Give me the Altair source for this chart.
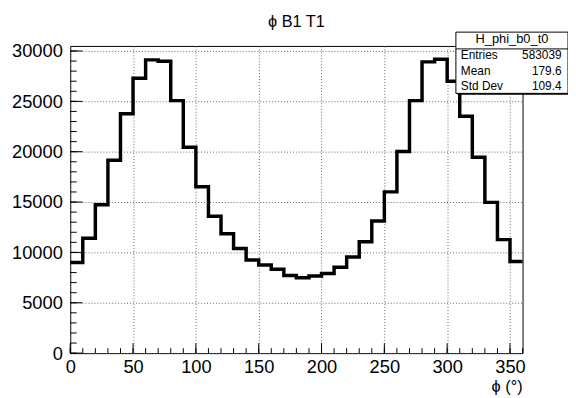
import altair as alt
import pandas as pd

# ---- data ----
bin_lo = list(range(0, 360, 10))
counts = [9000, 11400, 14740, 19150, 23760, 27290, 29120, 28990, 25070, 20450,
          16520, 13600, 11860, 10390, 9250, 8760, 8330, 7710, 7480, 7650,
          7910, 8530, 9540, 11050, 13120, 16010, 20010, 25070, 28920, 29190,
          26990, 23530, 19440, 14970, 11270, 9090]
x_major = [0, 50, 100, 150, 200, 250, 300, 350]
y_major = [0, 5000, 10000, 15000, 20000, 25000, 30000]
x_minor = list(range(0, 361, 10))
y_minor = list(range(0, 30001, 1000))
title_text = "ϕ B1 T1"
x_title = "ϕ (°)"
stats_name = "H_phi_b0_t0"
stats_labels = ["Entries", "Mean", "Std Dev"]
stats_values = ["583039", "179.6", "109.4"]

W, H = 458, 311
FONT = "Liberation Sans"
xs = alt.Scale(domain=[0, 360], nice=False, zero=False)
ys = alt.Scale(domain=[0, 30500], nice=False)

x_axis = alt.Axis(
    values=x_major, ticks=False, domain=False, grid=True, gridDash=[1, 2],
    gridColor="#666", gridWidth=1, labelFontSize=18.5, labelFont=FONT, format="d",
    labelColor="black", labelPadding=5, labelFlush=False, labelOverlap=False,
    title=None)
y_axis = alt.Axis(
    values=y_major, ticks=False, domain=False, grid=True, gridDash=[1, 2],
    gridColor="#666", gridWidth=1, labelFontSize=18.5, labelFont=FONT, format="d",
    labelColor="black", labelPadding=8, labelFlush=False, labelOverlap=False,
    title=None)

line_df = pd.DataFrame({"phi": bin_lo + [360], "n": counts + [counts[-1]]})

hist = alt.Chart(line_df).mark_line(
    interpolate="step-after", color="black", strokeWidth=3.5, strokeJoin="miter"
).encode(
    x=alt.X("phi:Q", scale=xs, axis=x_axis),
    y=alt.Y("n:Q", scale=ys, axis=y_axis),
)

def xticks(vals, length):
    return alt.Chart(pd.DataFrame({"phi": vals})).mark_rule(color="black", strokeWidth=1).encode(
        x=alt.X("phi:Q", scale=xs, axis=x_axis), y=alt.value(H), y2=alt.value(H - length))

def yticks(vals, length):
    return alt.Chart(pd.DataFrame({"n": vals})).mark_rule(color="black", strokeWidth=1).encode(
        y=alt.Y("n:Q", scale=ys, axis=y_axis), x=alt.value(0), x2=alt.value(length))

one = pd.DataFrame({"a": [0]})
bx0, bx1, by0, by1 = 390.5, 504, -14, 48

shadow = alt.Chart(one).mark_rect(color="black").encode(
    x=alt.value(bx0 + 1.5), x2=alt.value(bx1 + 1.5), y=alt.value(by0 + 1.5), y2=alt.value(by1 + 1.5))
box = alt.Chart(one).mark_rect(fill="white", stroke="black", strokeWidth=1).encode(
    x=alt.value(bx0), x2=alt.value(bx1), y=alt.value(by0), y2=alt.value(by1))
sep = alt.Chart(one).mark_rule(color="black", strokeWidth=1).encode(
    x=alt.value(bx0), x2=alt.value(bx1), y=alt.value(3))
stitle = alt.Chart(one).mark_text(text=stats_name, font=FONT, fontSize=13, align="center",
                                  baseline="alphabetic", color="black").encode(
    x=alt.value((bx0 + bx1) / 2), y=alt.value(-3))
rows = []
row_y = [14.5, 30.5, 46]
for lab, val, yy in zip(stats_labels, stats_values, row_y):
    rows.append(alt.Chart(one).mark_text(text=lab, font=FONT, fontSize=12, align="left",
                                         baseline="alphabetic", color="black").encode(
        x=alt.value(395.5), y=alt.value(yy - 1)))
    rows.append(alt.Chart(one).mark_text(text=val, font=FONT, fontSize=12, align="right",
                                         baseline="alphabetic", color="black").encode(
        x=alt.value(497.5), y=alt.value(yy - 1)))

ttl = alt.Chart(one).mark_text(text=title_text, font=FONT, fontSize=16.5, align="center",
                               baseline="alphabetic", color="black").encode(
    x=alt.value(W / 2), y=alt.value(-19))
xt = alt.Chart(one).mark_text(text=x_title, font=FONT, fontSize=16.5, align="right",
                              baseline="alphabetic", color="black").encode(
    x=alt.value(W), y=alt.value(350))

chart = alt.layer(
    hist,
    xticks(x_minor, 5), xticks(x_major, 10),
    yticks(y_minor, 6.5), yticks(y_major, 12.5),
    shadow, box, sep, stitle, *rows, ttl, xt,
).properties(
    width=W, height=H,
    autosize=alt.AutoSizeParams(type="none"),
    padding={"left": 63, "top": 36, "right": 46, "bottom": 42},
    background="white",
).configure_view(stroke="black", strokeWidth=1)

chart.save("out.html", embed_options={"renderer": "svg", "actions": False})
